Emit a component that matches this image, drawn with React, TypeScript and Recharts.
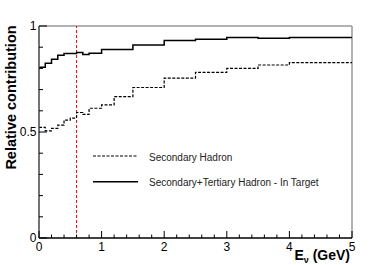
import React from 'react';
import { LineChart, Line, XAxis, YAxis, ReferenceLine, Legend, Label } from 'recharts';

// bin lower edges (GeV); last entry closes the final bin
const binEdges = [0, 0.1, 0.2, 0.3, 0.4, 0.5, 0.6, 0.7, 0.8, 1.0, 1.2, 1.5, 2.0, 2.5, 3.0, 3.5, 4.0, 5.0];
const secondaryHadron = [0.522, 0.505, 0.517, 0.532, 0.556, 0.565, 0.592, 0.583, 0.612, 0.628, 0.667, 0.71, 0.754, 0.781, 0.8, 0.816, 0.827];
const tertiaryInTarget = [0.806, 0.824, 0.843, 0.862, 0.87, 0.87, 0.875, 0.866, 0.872, 0.889, 0.889, 0.91, 0.932, 0.937, 0.946, 0.942, 0.946];

const xTicks = [0, 0.2, 0.4, 0.6, 0.8, 1, 1.2, 1.4, 1.6, 1.8, 2, 2.2, 2.4, 2.6, 2.8, 3, 3.2, 3.4, 3.6, 3.8, 4, 4.2, 4.4, 4.6, 4.8, 5];
const xMajor = [0, 1, 2, 3, 4, 5];
const yTicks = [0, 0.1, 0.2, 0.3, 0.4, 0.5, 0.6, 0.7, 0.8, 0.9, 1];
const yMajor = [0, 0.5, 1];
const cutEnergy = 0.6;

const font = '"Liberation Sans", Arial, Helvetica, sans-serif';

const data = binEdges.map((e, i) => {
  const k = Math.min(i, secondaryHadron.length - 1);
  return { e, secondary: secondaryHadron[k], tertiary: tertiaryInTarget[k] };
});

const XTick = (props: any) => {
  const { x, y, payload } = props;
  const major = xMajor.includes(payload.value);
  return (
    <g>
      <line x1={x} x2={x} y1={y} y2={y - (major ? 7 : 3.5)} stroke="#000" strokeWidth={1} />
      {major && (
        <text x={x} y={y + 12.5} textAnchor="middle" fontSize={12} fontFamily={font} fill="#000">
          {payload.value}
        </text>
      )}
    </g>
  );
};

const YTick = (props: any) => {
  const { x, y, payload } = props;
  const major = yMajor.includes(payload.value);
  return (
    <g>
      <line x1={x} x2={x + (major ? 8 : 4)} y1={y} y2={y} stroke="#000" strokeWidth={1} />
      {major && (
        <text x={x - 2.5} y={y + 4.3} textAnchor="end" fontSize={12} fontFamily={font} fill="#000">
          {payload.value}
        </text>
      )}
    </g>
  );
};

const LegendBox = () => (
  <svg width={270} height={50} style={{ display: 'block' }}>
    <line x1={3} x2={48} y1={11} y2={11} stroke="#000" strokeWidth={1.2} strokeDasharray="3 1.5" />
    <text x={59} y={15.5} fontSize={10} fontFamily={font} fill="#222">Secondary Hadron</text>
    <line x1={3} x2={48} y1={36.7} y2={36.7} stroke="#000" strokeWidth={1.5} />
    <text x={59} y={40.5} fontSize={10} fontFamily={font} fill="#222">Secondary+Tertiary Hadron - In Target</text>
  </svg>
);

export default function App() {
  return (
    <div style={{ position: 'absolute', left: 0, top: 0, width: 391, height: 265, background: '#fff' }}>
      <LineChart width={391} height={265} data={data} margin={{ top: 26, right: 39, bottom: 0, left: 0 }}>
        <XAxis
          dataKey="e"
          type="number"
          domain={[0, 5]}
          ticks={xTicks}
          interval={0}
          tickSize={0}
          tickMargin={0}
          tick={<XTick />}
          height={27}
          axisLine={{ stroke: '#000', strokeWidth: 1.5 }}
          allowDataOverflow
        >
          <Label
            content={() => (
              <text x={350} y={260} textAnchor="end" fontSize={14} fontWeight="bold" fontFamily={font} fill="#000">
                E<tspan fontSize={9} dy={3}>ν</tspan>
                <tspan dy={-3}> (GeV)</tspan>
              </text>
            )}
          />
        </XAxis>
        <YAxis
          type="number"
          domain={[0, 1]}
          ticks={yTicks}
          interval={0}
          tickSize={0}
          tickMargin={0}
          tick={<YTick />}
          width={39}
          axisLine={{ stroke: '#444', strokeWidth: 1.5 }}
          allowDataOverflow
        >
          <Label
            content={() => (
              <text
                x={16}
                y={97.5}
                transform="rotate(-90, 16, 97.5)"
                textAnchor="middle"
                fontSize={14.5}
                fontWeight="bold"
                fontFamily={font}
                fill="#000"
              >
                Relative contribution
              </text>
            )}
          />
        </YAxis>
        <ReferenceLine y={1} stroke="#999" strokeWidth={1.5} />
        <ReferenceLine x={5} stroke="#999" strokeWidth={1.5} />
        <ReferenceLine x={cutEnergy} stroke="#ff0000" strokeWidth={1} strokeDasharray="3 2" />
        <Line
          dataKey="secondary"
          type="stepAfter"
          stroke="#000"
          strokeWidth={1.2}
          strokeDasharray="3 1.5"
          dot={false}
          isAnimationActive={false}
        />
        <Line
          dataKey="tertiary"
          type="stepAfter"
          stroke="#000"
          strokeWidth={1.5}
          dot={false}
          isAnimationActive={false}
        />
        <Legend
          layout="horizontal"
          verticalAlign="middle"
          align="center"
          content={() => <LegendBox />}
          wrapperStyle={{ left: 90, top: 145, width: 270 }}
        />
      </LineChart>
    </div>
  );
}
